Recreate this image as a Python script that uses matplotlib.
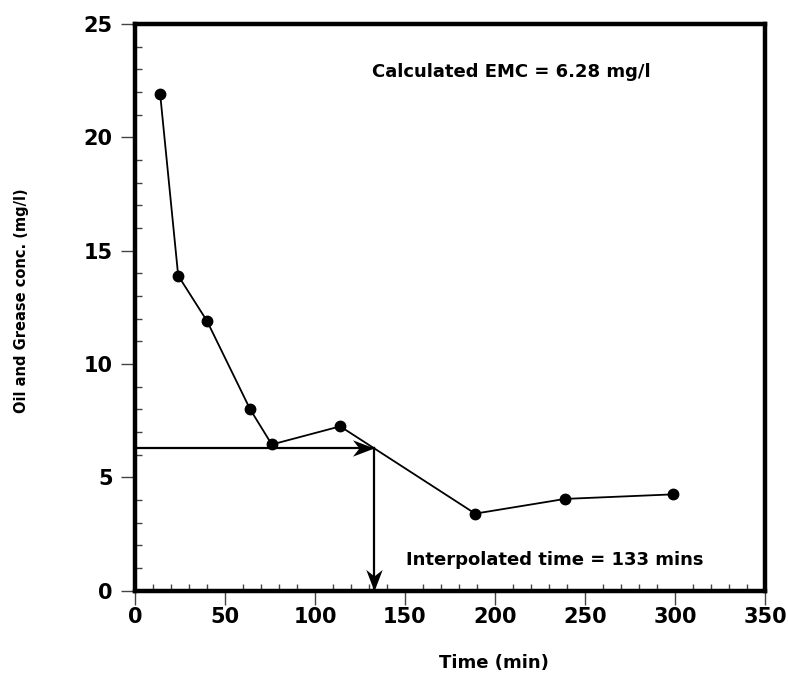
import matplotlib
matplotlib.use("Agg")
import matplotlib.pyplot as plt
from matplotlib.ticker import MultipleLocator
from matplotlib.path import Path

# Data
time_min = [14, 24, 40, 64, 76, 114, 189, 239, 299]
conc = [21.9, 13.9, 11.9, 8.0, 6.45, 7.25, 3.4, 4.05, 4.25]
emc = 6.28
interp_time = 133
x_ticks = [0, 50, 100, 150, 200, 250, 300, 350]
y_ticks = [0, 5, 10, 15, 20, 25]
emc_label = "Calculated EMC = 6.28 mg/l"
interp_label = "Interpolated time = 133 mins"
x_label = "Time (min)"
y_label = "Oil and Grease conc. (mg/l)"

plt.rcParams['font.family'] = ['DejaVu Sans']
plt.rcParams['font.weight'] = 'bold'

fig = plt.figure(figsize=(7.88, 6.73), dpi=100)
ax = fig.add_axes([0.1713, 0.1223, 0.7995, 0.842])

ax.plot(time_min, conc, color='black', lw=1.3, marker='o', ms=7.5,
        markerfacecolor='black', markeredgecolor='black', zorder=3)

# Interpolation arrows (stealth-shaped heads with tip at the origin)
head_right = Path([(0, 0), (-1, 0.38), (-0.7, 0), (-1, -0.38), (0, 0)],
                  [Path.MOVETO, Path.LINETO, Path.LINETO, Path.LINETO,
                   Path.CLOSEPOLY])
head_down = Path([(0, 0), (-0.38, 1), (0, 0.7), (0.38, 1), (0, 0)],
                 [Path.MOVETO, Path.LINETO, Path.LINETO, Path.LINETO,
                  Path.CLOSEPOLY])
ax.plot([0, interp_time], [emc, emc], color='black', lw=1.6, zorder=2,
        clip_on=False)
ax.plot([interp_time, interp_time], [emc, 0], color='black', lw=1.6,
        zorder=2, clip_on=False)
ax.plot([interp_time], [emc], marker=head_right, ms=31, color='black',
        mew=0, zorder=4)
ax.plot([interp_time], [0], marker=head_down, ms=31, color='black',
        mew=0, zorder=4, clip_on=False)

ax.text(131.7, 22.87, emc_label, fontsize=13, fontweight='bold',
        ha='left', va='center')
ax.text(150.7, 1.35, interp_label, fontsize=13, fontweight='bold',
        ha='left', va='center')

ax.set_xlim(0, 350)
ax.set_ylim(0, 25)
ax.set_xticks(x_ticks)
ax.set_yticks(y_ticks)
ax.xaxis.set_minor_locator(MultipleLocator(10))
ax.yaxis.set_minor_locator(MultipleLocator(1))

ax.tick_params(which='major', direction='out', length=10, width=1,
               color='#444444', labelsize=15, pad=2)
ax.tick_params(axis='y', which='major', pad=6)
ax.tick_params(which='minor', direction='in', length=5, width=1,
               color='#444444')
for lab in ax.get_xticklabels() + ax.get_yticklabels():
    lab.set_fontweight('bold')

for s in ax.spines.values():
    s.set_linewidth(3.2)
    s.set_color('black')
    s.set_zorder(5)

ax.set_xlabel(x_label, fontsize=13, fontweight='bold')
ax.set_ylabel(y_label, fontsize=10.5, fontweight='bold')
ax.xaxis.set_label_coords(0.57, -0.112)
ax.yaxis.set_label_coords(-0.168, 0.511)

fig.savefig("out.png", dpi=100)
